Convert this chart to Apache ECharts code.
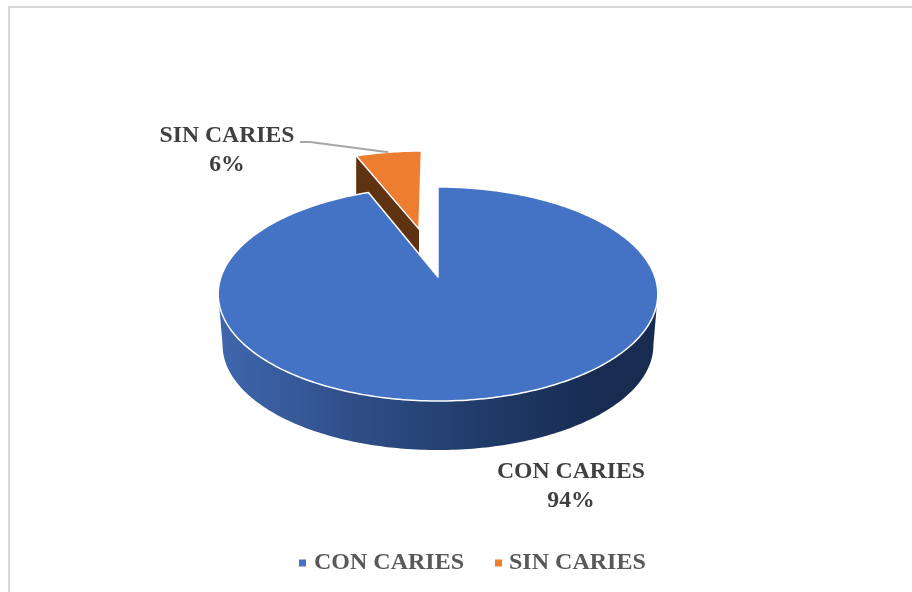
<!DOCTYPE html>
<html>
<head>
<meta charset="utf-8">
<style>html,body{margin:0;padding:0;background:#fff}#c{width:912px;height:592px}</style>
<script src="https://cdn.jsdelivr.net/npm/echarts@6/dist/echarts.min.js"></script>
</head>
<body>
<div id="c"></div>
<script>
const categories = ['CON CARIES', 'SIN CARIES'];
const values = [94, 6];
const colors = ['#4472c4', '#ed7d31'];
const wallColors = ['#2c4c85', '#5f3211'];
const explode = [0, 0.504];
const labelPos = [[571, 486.5], [227, 150.5]];
const legendPad = [3, 2];

const FONT = '"Liberation Serif","Times New Roman",serif';
const CX = 438, CY = 277, A = 217, B = 104.3, K = 0.159;
const DEPTH = 51.5, SHRINK = 0.98;
const total = values.reduce((a, b) => a + b, 0);
const rad = d => d * Math.PI / 180;

function project(u, v) {
  const w = 1 + K * v;
  return [CX + A * u / w, CY - B * v / w];
}
function lower(p) {
  return [CX + (p[0] - CX) * SHRINK, CY + (p[1] - CY) * SHRINK + DEPTH];
}
function sliceAngles(i) {
  let s = 0;
  for (let j = 0; j < i; j++) s += values[j];
  return [s / total * 360, (s + values[i]) / total * 360];
}
function makePoint(i, deg) {
  const [a0, a1] = sliceAngles(i);
  const mid = rad((a0 + a1) / 2), e = explode[i];
  const du = e * Math.sin(mid), dv = e * Math.cos(mid);
  return project(du + Math.sin(rad(deg)), dv + Math.cos(rad(deg)));
}
function apex(i) {
  const [a0, a1] = sliceAngles(i);
  const mid = rad((a0 + a1) / 2), e = explode[i];
  return project(e * Math.sin(mid), e * Math.cos(mid));
}
function arc(i, from, to) {
  const n = Math.max(2, Math.ceil(Math.abs(to - from)));
  const pts = [];
  for (let t = 0; t <= n; t++) pts.push(makePoint(i, from + (to - from) * t / n));
  return pts;
}

function renderSlice(params, api) {
  const i = params.seriesIndex;
  const [a0, a1] = sliceAngles(i);
  const children = [];
  if (i === 0) {
    const top = arc(0, 99, 261);
    const wall = top.concat(top.slice().reverse().map(lower));
    children.push({
      type: 'polygon',
      shape: { points: wall },
      style: {
        fill: {
          type: 'linear', global: true, x: 218, y: 0, x2: 658, y2: 0,
          colorStops: [
            { offset: 0, color: '#3f67ae' },
            { offset: 0.3, color: '#304f89' },
            { offset: 0.6, color: '#213b69' },
            { offset: 0.85, color: '#182c52' },
            { offset: 1, color: '#182c52' }
          ]
        }
      }
    });
  } else {
    const start = makePoint(i, a0), c = apex(i);
    children.push({
      type: 'polygon',
      shape: { points: [start, c, [c[0], c[1] + DEPTH], [start[0], start[1] + DEPTH]] },
      style: { fill: wallColors[i] }
    });
  }
  const face = [apex(i)].concat(arc(i, a0, a1));
  children.push({
    type: 'polygon',
    shape: { points: face },
    style: { fill: colors[i], stroke: '#ffffff', lineWidth: 1.5, lineJoin: 'round' }
  });
  const pct = Math.round(api.value(0) / total * 100) + '%';
  children.push({
    type: 'text',
    style: {
      x: labelPos[i][0], y: labelPos[i][1],
      text: categories[i] + '\n' + pct,
      fill: '#404040',
      font: 'bold 23.7px ' + FONT,
      lineHeight: 28.5,
      align: 'center',
      verticalAlign: 'middle'
    }
  });
  if (i === 1) {
    const end = makePoint(i, a0 + (a1 - a0) * 0.5);
    children.push({
      type: 'polyline',
      shape: { points: [[300, 142], [310, 142], end] },
      style: { stroke: '#a6a6a6', lineWidth: 2, fill: null }
    });
  }
  return { type: 'group', children };
}

const chart = echarts.init(document.getElementById('c'), null, { renderer: 'canvas' });
chart.setOption({
  animation: false,
  backgroundColor: '#ffffff',
  graphic: [{
    type: 'polyline',
    silent: true,
    shape: { points: [[9, 600], [9, 7], [920, 7]] },
    style: { stroke: '#d9d9d9', lineWidth: 2, fill: null }
  }],
  legend: {
    left: 294,
    top: 546,
    itemWidth: 7,
    itemHeight: 7,
    itemGap: 31,
    icon: 'rect',
    data: categories.map((name, i) => ({
      name,
      textStyle: {
        color: '#595959',
        fontFamily: FONT,
        fontWeight: 'bold',
        fontSize: 24,
        padding: [0, 0, 0, legendPad[i]]
      }
    }))
  },
  series: categories.map((name, i) => ({
    type: 'custom',
    name,
    coordinateSystem: 'none',
    z: i === 0 ? 3 : 2,
    itemStyle: { color: colors[i] },
    renderItem: renderSlice,
    data: [[values[i]]]
  }))
});
</script>
</body>
</html>
